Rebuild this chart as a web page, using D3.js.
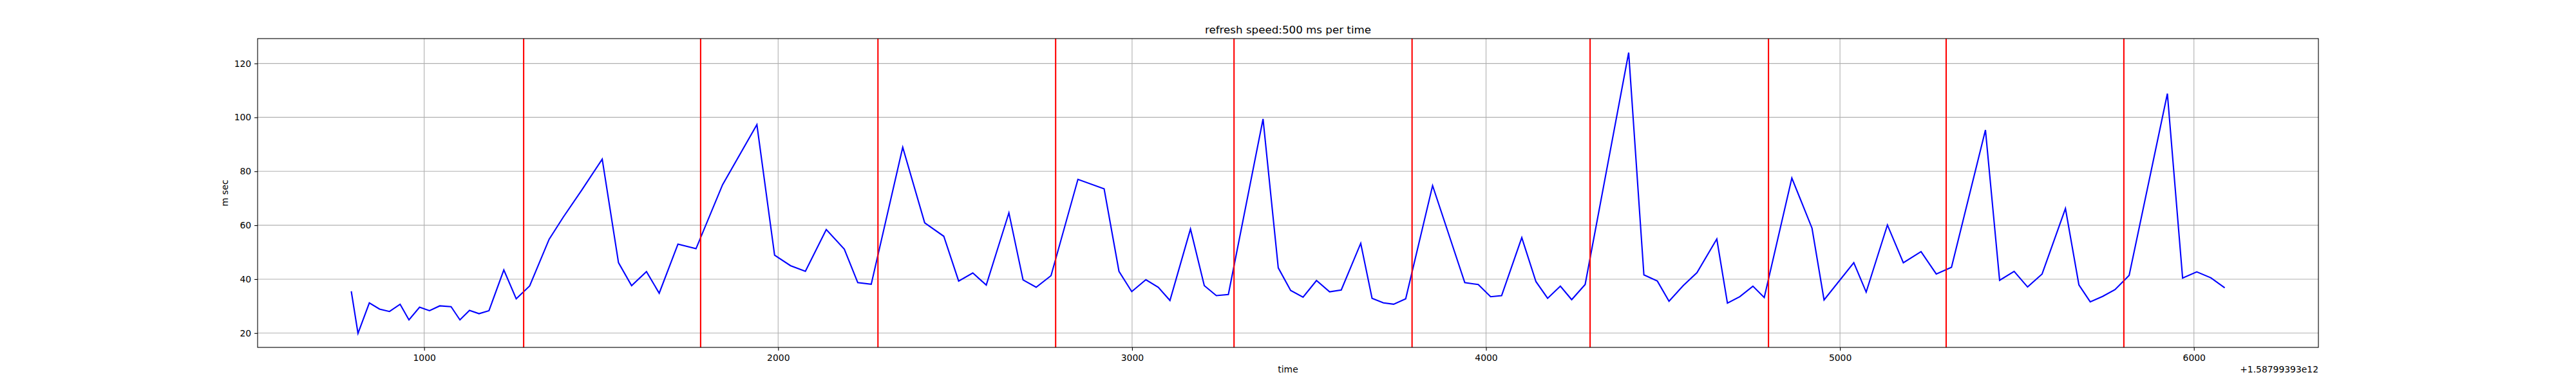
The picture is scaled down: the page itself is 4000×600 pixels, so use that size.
<!DOCTYPE html>
<html>
<head>
<meta charset="utf-8">
<script src="https://cdn.jsdelivr.net/npm/d3@7"></script>
<style>
  body { margin: 0; background: #fff; }
  svg { display: block; font-family: "DejaVu Sans", sans-serif; }
  .tick-label { font-size: 13.9px; fill: #000; }
  .title { font-size: 16.7px; text-anchor: middle; }
  .axis-label { font-size: 13.9px; }
</style>
</head>
<body>
<svg width="4000" height="600"></svg>
<script>
// Sample times (ms, relative to offset) and refresh durations
const timeOffset = "+1.58799393e12"
const times = [
  794, 813, 845, 874, 902, 932, 957, 987, 1015, 1044, 1076, 1101, 1128, 1155, 1183,
  1225, 1260, 1298, 1353, 1393, 1445, 1503, 1549, 1586, 1628, 1664, 1717, 1768, 1843,
  1940, 1990, 2035, 2077, 2136, 2187, 2225, 2263, 2352, 2414, 2468, 2510, 2550, 2588,
  2652, 2692, 2729, 2771, 2847, 2921, 2963, 2999, 3039, 3074, 3107, 3165, 3204, 3238,
  3272, 3370, 3413, 3448, 3483, 3521, 3558, 3591, 3646, 3678, 3710, 3739, 3773, 3849,
  3940, 3978, 4013, 4044, 4101, 4141, 4174, 4210, 4242, 4280, 4403, 4446, 4484, 4517,
  4557, 4596, 4652, 4682, 4717, 4754, 4786, 4864, 4921, 4955, 5039, 5074, 5134, 5179,
  5229, 5272, 5315, 5411, 5451, 5492, 5530, 5571, 5637, 5675, 5707, 5742, 5777, 5817,
  5925, 5968, 6008, 6048, 6087
]
const msec = [
  35.5, 19.9, 31.2, 28.9, 28.0, 30.7, 24.9, 29.6, 28.3, 30.1, 29.8, 24.9, 28.4, 27.2, 28.3,
  43.4, 32.7, 37.5, 54.8, 63.0, 73.0, 84.5, 46.1, 37.6, 42.8, 34.8, 53.0, 51.3, 75.0,
  97.3, 48.9, 45.0, 42.9, 58.4, 51.1, 38.7, 38.1, 88.9, 60.9, 55.9, 39.3, 42.3, 37.8,
  64.6, 39.7, 37.0, 41.3, 77.0, 73.5, 42.9, 35.4, 39.8, 37.0, 32.1, 58.6, 37.6, 33.9,
  34.3, 99.4, 44.2, 35.8, 33.3, 39.5, 35.3, 36.0, 53.3, 32.9, 31.2, 30.7, 32.7, 74.7,
  38.7, 38.0, 33.5, 33.9, 55.4, 39.1, 32.9, 37.4, 32.4, 38.0, 124.0, 41.6, 39.3, 31.8,
  37.6, 42.4, 54.9, 31.1, 33.5, 37.4, 33.2, 77.5, 58.9, 32.3, 46.1, 35.2, 60.1, 46.1,
  50.2, 41.9, 44.4, 95.3, 39.6, 42.9, 37.1, 41.9, 66.2, 37.9, 31.6, 33.6, 36.1, 41.4,
  108.8, 40.4, 42.7, 40.5, 36.8
]
// Refresh markers (red vertical lines)
const refreshTimes = [1281, 1781, 2282, 2784, 3288, 3791, 4294, 4798, 5300, 5802]

const xTicks = [1000, 2000, 3000, 4000, 5000, 6000]
const yTicks = [20, 40, 60, 80, 100, 120]

let data = times.map((t, i) => ({ t: t, v: msec[i] }))

let margin = { left: 400, right: 400, top: 60, bottom: 60 }
let w = 4000 - margin.left - margin.right
let h = 600 - margin.top - margin.bottom

let svg = d3.select('svg')
svg.append('rect').attr('width', 4000).attr('height', 600).attr('fill', '#fff')

// matplotlib style 5% margins around the data
function padded(ext) {
  let p = (ext[1] - ext[0]) * 0.05
  return [ext[0] - p, ext[1] + p]
}

let xScale = d3.scaleLinear()
  .domain(padded(d3.extent(data, d => d.t)))
  .range([0, w])

let yScale = d3.scaleLinear()
  .domain(padded(d3.extent(data, d => d.v)))
  .range([h, 0])

let g = svg.append('g')
  .attr('transform', `translate(${margin.left},${margin.top})`)

g.append('clipPath').attr('id', 'clip')
  .append('rect').attr('width', w).attr('height', h)

// Grid
g.append('g')
  .selectAll('line')
  .data(xTicks)
  .enter()
  .append('line')
  .attr('x1', d => xScale(d)).attr('x2', d => xScale(d))
  .attr('y1', 0).attr('y2', h)
  .attr('stroke', '#b0b0b0').attr('stroke-width', 1.1)

g.append('g')
  .selectAll('line')
  .data(yTicks)
  .enter()
  .append('line')
  .attr('x1', 0).attr('x2', w)
  .attr('y1', d => yScale(d)).attr('y2', d => yScale(d))
  .attr('stroke', '#b0b0b0').attr('stroke-width', 1.1)

// Main line
let line = d3.line()
  .x(d => xScale(d.t))
  .y(d => yScale(d.v))

g.append('path')
  .datum(data)
  .attr('clip-path', 'url(#clip)')
  .attr('d', line)
  .attr('fill', 'none')
  .attr('stroke', '#0000ff')
  .attr('stroke-width', 2.1)
  .attr('stroke-linejoin', 'miter')

// Refresh markers
g.append('g')
  .selectAll('line')
  .data(refreshTimes)
  .enter()
  .append('line')
  .attr('x1', d => xScale(d)).attr('x2', d => xScale(d))
  .attr('y1', 0).attr('y2', h)
  .attr('stroke', '#ff0000').attr('stroke-width', 2.1)

// Axes
let xAxis = d3.axisBottom(xScale)
  .tickValues(xTicks)
  .tickSize(4.9)
  .tickPadding(4.9)
  .tickFormat(d3.format('d'))

let yAxis = d3.axisLeft(yScale)
  .tickValues(yTicks)
  .tickSize(4.9)
  .tickPadding(4.9)
  .tickFormat(d3.format('d'))

let xg = g.append('g')
  .attr('transform', `translate(0,${h})`)
  .call(xAxis)
let yg = g.append('g').call(yAxis)

;[xg, yg].forEach(ax => {
  ax.select('.domain').remove()
  ax.selectAll('.tick line').attr('stroke', '#000').attr('stroke-width', 1.1)
  ax.selectAll('.tick text')
    .attr('class', 'tick-label')
    .style('font-family', '"DejaVu Sans", sans-serif')
    .style('font-size', '13.9px')
})
xg.selectAll('.tick text').attr('dy', null).attr('y', 20.7)

// Frame
g.append('rect')
  .attr('width', w).attr('height', h)
  .attr('fill', 'none')
  .attr('stroke', '#000')
  .attr('stroke-width', 1.1)

// Title
svg.append('text')
  .attr('class', 'title')
  .attr('x', margin.left + w / 2)
  .attr('y', margin.top - 8.3)
  .text('refresh speed:500 ms per time')

// Axis labels
svg.append('text')
  .attr('class', 'axis-label')
  .attr('text-anchor', 'middle')
  .attr('x', margin.left + w / 2)
  .attr('y', 578.5)
  .text('time')

svg.append('text')
  .attr('class', 'axis-label')
  .attr('text-anchor', 'middle')
  .attr('transform', `translate(354,${margin.top + h / 2}) rotate(-90)`)
  .text('m sec')

// Offset text
svg.append('text')
  .attr('class', 'axis-label')
  .attr('text-anchor', 'end')
  .attr('x', margin.left + w)
  .attr('y', 579)
  .text(timeOffset)
</script>
</body>
</html>
